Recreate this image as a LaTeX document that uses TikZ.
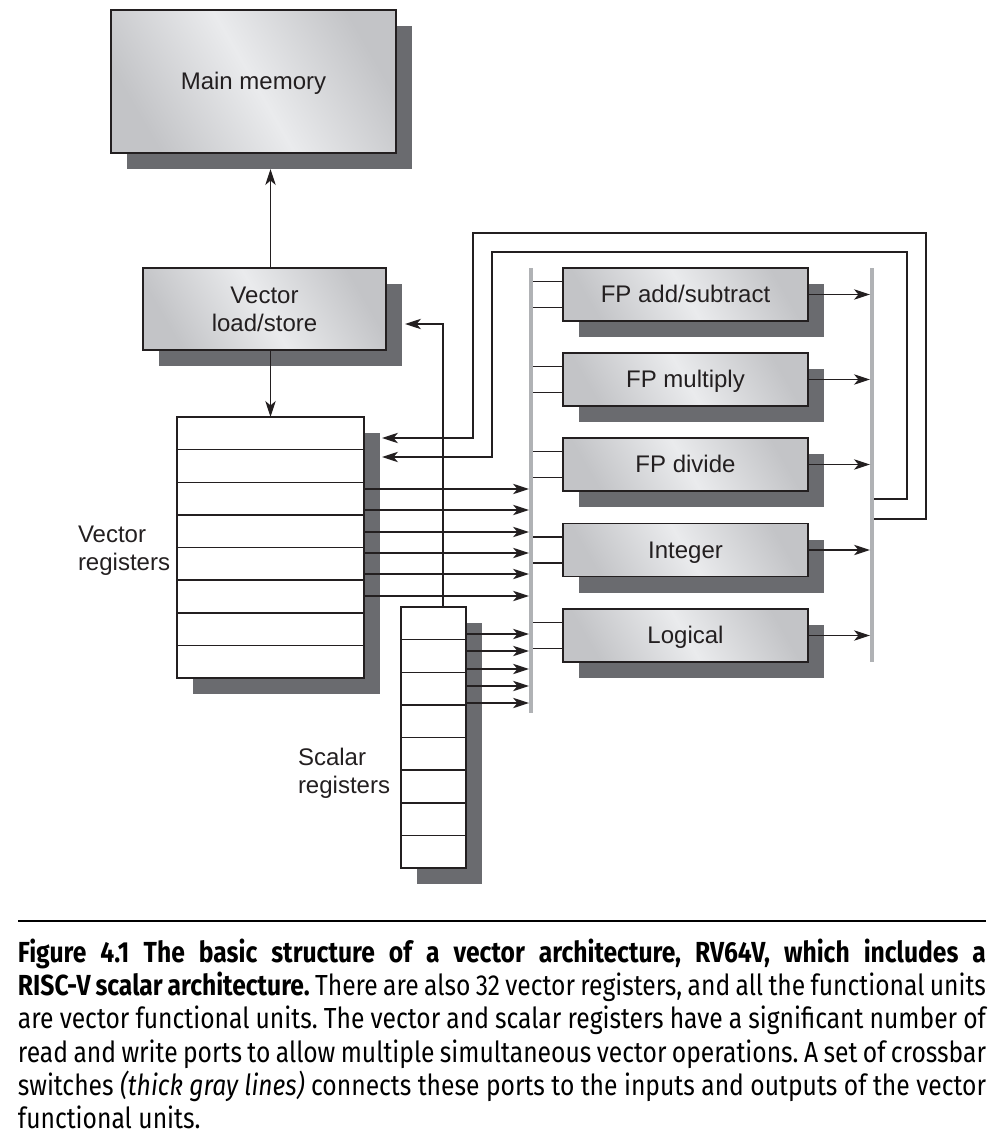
\documentclass[tikz,border=0pt]{standalone}
\usepackage{fontspec}
\setmainfont{Liberation Sans}
\newfontfamily\capfont[FakeStretch=0.85]{Fira Sans}
\usetikzlibrary{arrows.meta,shadows,calc}

\definecolor{inkc}{HTML}{231F20}
\definecolor{shadc}{HTML}{6A6B6F}
\definecolor{boxlight}{HTML}{EAEBED}
\definecolor{boxdark}{HTML}{C3C4C7}
\definecolor{xbarc}{HTML}{B0B2B5}

\begin{document}
\begin{tikzpicture}[x=0.5pt,y=-0.5pt,
  every node/.style={inner sep=0pt, outer sep=0pt},
  dshadow/.style={drop shadow={shadow xshift=8pt, shadow yshift=-8pt, fill=shadc, opacity=1}},
  unitbox/.style={draw=inkc, line width=0.8pt, dshadow,
    left color=boxdark, right color=boxdark, middle color=boxlight, shading angle=120,
    font=\fontsize{12}{14}\selectfont, text=inkc, align=center},
  oneline/.style={text height=9pt, text depth=1pt},
  regbox/.style={draw=inkc, line width=0.8pt, fill=white, dshadow},
  rowline/.style={draw=inkc, line width=0.75pt},
  xbar/.style={fill=xbarc, draw=none, minimum width=2pt},
  ln/.style={draw=inkc, line width=0.65pt},
  arr/.style={ln, -{Stealth[length=8pt,width=5.2pt,inset=2.2pt]}},
  lbl/.style={font=\fontsize{12}{14}\selectfont, text=inkc, align=left}
]
\path[use as bounding box] (0,0) rectangle (998,1143);

% ---- boxes ----
\node[unitbox, oneline, minimum width=142.5pt, minimum height=71.5pt] (mm) at (253.5,81.5) {Main memory};
\node[unitbox, minimum width=121.5pt, minimum height=41pt] (vls) at (264.5,309) {Vector\\load/store};

\node[regbox, minimum width=93.5pt, minimum height=130.5pt] (vreg) at (270.5,547.5) {};
\foreach \k in {1,...,7}
  \draw[rowline] ($(vreg.north west)!\k/8!(vreg.south west)$) -- ($(vreg.north east)!\k/8!(vreg.south east)$);

\node[regbox, minimum width=32.5pt, minimum height=130.5pt] (sreg) at (433.5,737.5) {};
\foreach \k in {1,...,7}
  \draw[rowline] ($(sreg.north west)!\k/8!(sreg.south west)$) -- ($(sreg.north east)!\k/8!(sreg.south east)$);

\node[lbl, anchor=base west] (vlab) at (78,570) {Vector\\registers};
\node[lbl, anchor=base west] (slab) at (298,793) {Scalar\\registers};

% ---- crossbars ----
\node[xbar, minimum height=222.5pt] (xbL) at (531,490.5) {};
\node[xbar, minimum height=197pt] (xbR) at (872,465) {};

% ---- functional units ----
\foreach \nm/\yy/\tx in {fpadd/294.5/FP add\slash subtract, fpmul/379.5/FP multiply, fpdiv/464.5/FP divide, intu/550/Integer, logu/635.5/Logical}{
  \node[unitbox, oneline, minimum width=122.5pt, minimum height=26.5pt] (\nm) at (685.5,\yy) {\tx};
  \coordinate (\nm-a) at ([yshift=6.5pt]\nm.west);
  \coordinate (\nm-b) at ([yshift=-6.5pt]\nm.west);
  \draw[ln] (\nm-a -| xbL.east) -- (\nm-a);
  \draw[ln] (\nm-b -| xbL.east) -- (\nm-b);
  \draw[arr] (\nm.east) -- (\nm.east -| xbR.west);
}

% ---- memory connections ----
\draw[arr] (vreg.north |- vls.north) -- ($(vreg.north |- mm.south)+(0,16)$);
\draw[arr] (vreg.north |- vls.south) -- (vreg.north);

% ---- register read ports ----
\foreach \yy in {489,510,532,553,574,596}
  \draw[arr] (vreg.east |- 0,\yy) -- (xbL.west |- 0,\yy);
\foreach \yy in {634,651,669,686,703}
  \draw[arr] (sreg.east |- 0,\yy) -- (xbL.west |- 0,\yy);

% ---- scalar to load/store ----
\draw[arr] ([xshift=4.75pt]sreg.north) |- ($(vls.east)+(19,15)$);

% ---- write-back loops ----
\draw[arr] (xbR.east |- 0,519) -| (926,233) -| (473,438) -- ($(vreg.north east)+(18,21)$);
\draw[arr] (xbR.east |- 0,499) -| (907,252) -| (492,457) -- ($(vreg.north east)+(18,40)$);

% ---- caption ----
\draw[draw=black, line width=1.1pt] (18,921) coordinate (r1) -- (986,921) coordinate (r2);
\node[anchor=north west, text width=484pt, align=justify,
      font=\capfont\fontsize{14.5}{16.6}\selectfont] (cap) at (18,939)
{\frenchspacing{\bfseries Figure 4.1\hspace{0.5em}The basic structure of a vector architecture, RV64V, which includes a\linebreak
RISC-V scalar architecture.} There are also 32 vector registers, and all the functional units\linebreak
are vector functional units. The vector and scalar registers have a significant number of\linebreak
read and write ports to allow multiple simultaneous vector operations. A set of crossbar\linebreak
switches {\itshape (thick gray lines)} connects these ports to the inputs and outputs of the vector\linebreak
functional units.};
\end{tikzpicture}
\end{document}
